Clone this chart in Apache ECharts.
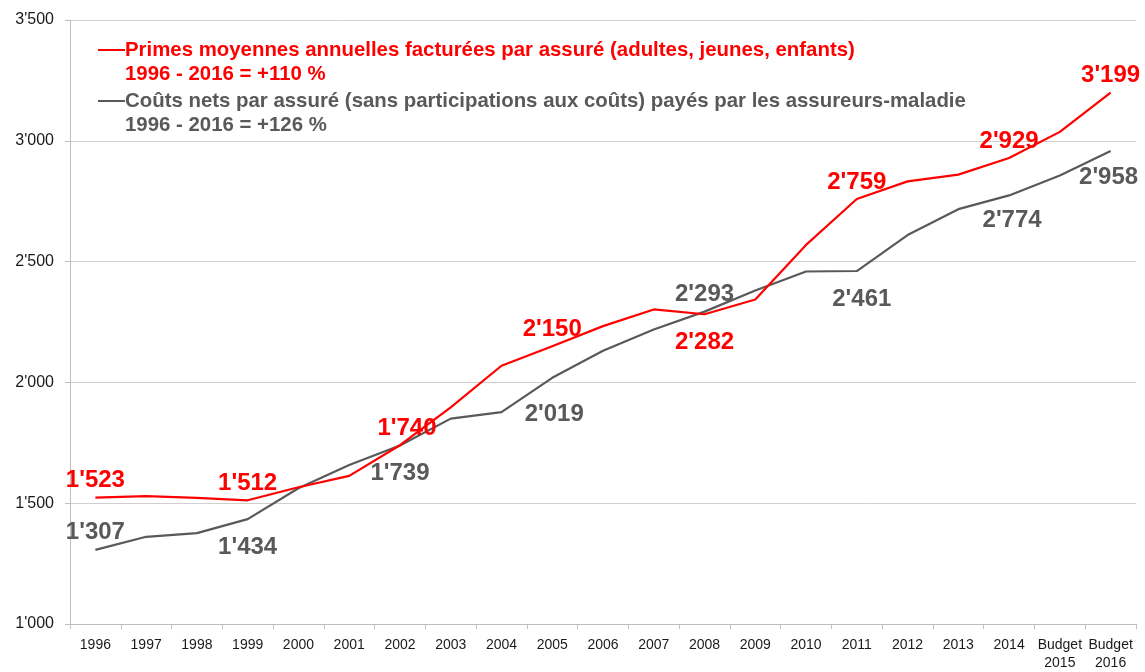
<!DOCTYPE html>
<html>
<head>
<meta charset="utf-8">
<script src="https://cdn.jsdelivr.net/npm/echarts@6/dist/echarts.min.js"></script>
<style>
  html,body{margin:0;padding:0;background:#fff;}
  #chart{width:1145px;height:672px;}
</style>
</head>
<body>
<div id="chart"></div>
<script>
// categories (x axis)
var years = ['1996','1997','1998','1999','2000','2001','2002','2003','2004','2005','2006','2007','2008','2009','2010','2011','2012','2013','2014','Budget\n2015','Budget\n2016'];

// primes moyennes (rouge)
var primes = [1523,1529,1522,1512,1566,1613,1740,1897,2069,2150,2233,2302,2282,2343,2569,2759,2832,2860,2929,3037,3199];
// coûts nets (gris)
var couts = [1307,1361,1376,1434,1562,1658,1739,1850,1877,2019,2131,2219,2293,2380,2459,2461,2610,2717,2774,2856,2958];

// which points get a value label, and where (index: position)
var primesLabels = {0:'top',3:'top',6:'top',9:'top',12:'bottom',15:'top',18:'top',20:'top'};
var coutsLabels = {0:'top',3:'bottom',6:'bottom',9:'bottom',12:'top',15:'bottom',18:'bottom',20:'bottom'};
// small nudges [dx, dy] for a few labels
var primesNudge = {6:[7,0]};
var coutsNudge = {9:[2,9],15:[5,0],18:[3,-3],20:[-2,-2]};

// y axis
var yMin = 1000, yMax = 3500, yStep = 500;

var legendPrimes = ['Primes moyennes annuelles facturées par assuré (adultes, jeunes, enfants)','1996 - 2016 = +110 %'];
var legendCouts = ['Coûts nets par assuré (sans participations aux coûts) payés par les assureurs-maladie','1996 - 2016 = +126 %'];

var RED = '#ff0000', GREY = '#595959';
var FONT = '"Liberation Sans", Arial, sans-serif';

function fmt(v){ //1523 -> 1'523
  var s = String(Math.round(v));
  return s.replace(/\B(?=(\d{3})+(?!\d))/g, "'");
}

function buildData(vals, labels, nudge, color){
  var arr = [];
  for (var i=0;i<vals.length;i++){
    var o = {value: vals[i]};
    if (labels[i]) {
      o.label = {show:true, position:labels[i], distance:labels[i]=='top'?5:16, color:color,
        offset:nudge[i]||[0,0],
        fontSize:24, fontWeight:'bold', fontFamily:FONT, formatter:function(p){return fmt(p.value);}};
    }
    arr.push(o);
  }
  return arr;
}

var myChart = echarts.init(document.getElementById('chart'));

var option = {
  animation:false,
  textStyle:{fontFamily:FONT},
  grid:{left:70, right:9, top:20, bottom:43},
  legend:{
    orient:'vertical', left:93, top:40, padding:0, itemGap:7,
    icon:'none', itemWidth:0, itemHeight:0, selectedMode:false,
    data:[{name:'primes'},{name:'couts'}],
    formatter:function(name){
      if(name=='primes') return '{rd|}{r|'+legendPrimes[0]+'}\n{sp|}{r|'+legendPrimes[1]+'}';
      return '{gd|}{g|'+legendCouts[0]+'}\n{sp|}{g|'+legendCouts[1]+'}';
    },
    textStyle:{
      rich:{
        rd:{width:27, height:2, backgroundColor:RED},
        gd:{width:27, height:2, backgroundColor:GREY},
        sp:{width:27},
        r:{color:RED, fontSize:20.4, fontWeight:'bold', fontFamily:FONT, lineHeight:24},
        g:{color:GREY, fontSize:20.4, fontWeight:'bold', fontFamily:FONT, lineHeight:24}
      }
    }
  },
  xAxis:{
    type:'category',
    data:years,
    boundaryGap:true,
    axisLine:{lineStyle:{color:'#bfbfbf', width:1}},
    axisTick:{show:true, length:5, lineStyle:{color:'#bfbfbf'}},
    axisLabel:{color:'#1a1a1a', fontSize:14, margin:12, lineHeight:18, interval:0}
  },
  yAxis:{
    type:'value',
    min:yMin, max:yMax, interval:yStep,
    axisLine:{show:true, lineStyle:{color:'#bfbfbf', width:1}},
    axisTick:{show:true, length:5, lineStyle:{color:'#bfbfbf'}},
    splitLine:{lineStyle:{color:'#d0d0d0', width:1}},
    axisLabel:{color:'#1a1a1a', fontSize:16, margin:16, formatter:fmt}
  },
  series:[
    {
      name:'primes', type:'line', symbol:'circle', symbolSize:0, showSymbol:true, z:3,
      lineStyle:{color:RED, width:2.2}, itemStyle:{color:RED},
      data:buildData(primes, primesLabels, primesNudge, RED)
    },
    {
      name:'couts', type:'line', symbol:'circle', symbolSize:0, showSymbol:true, z:2,
      lineStyle:{color:GREY, width:2.2}, itemStyle:{color:GREY},
      data:buildData(couts, coutsLabels, coutsNudge, GREY)
    }
  ]
};

myChart.setOption(option);
</script>
</body>
</html>
